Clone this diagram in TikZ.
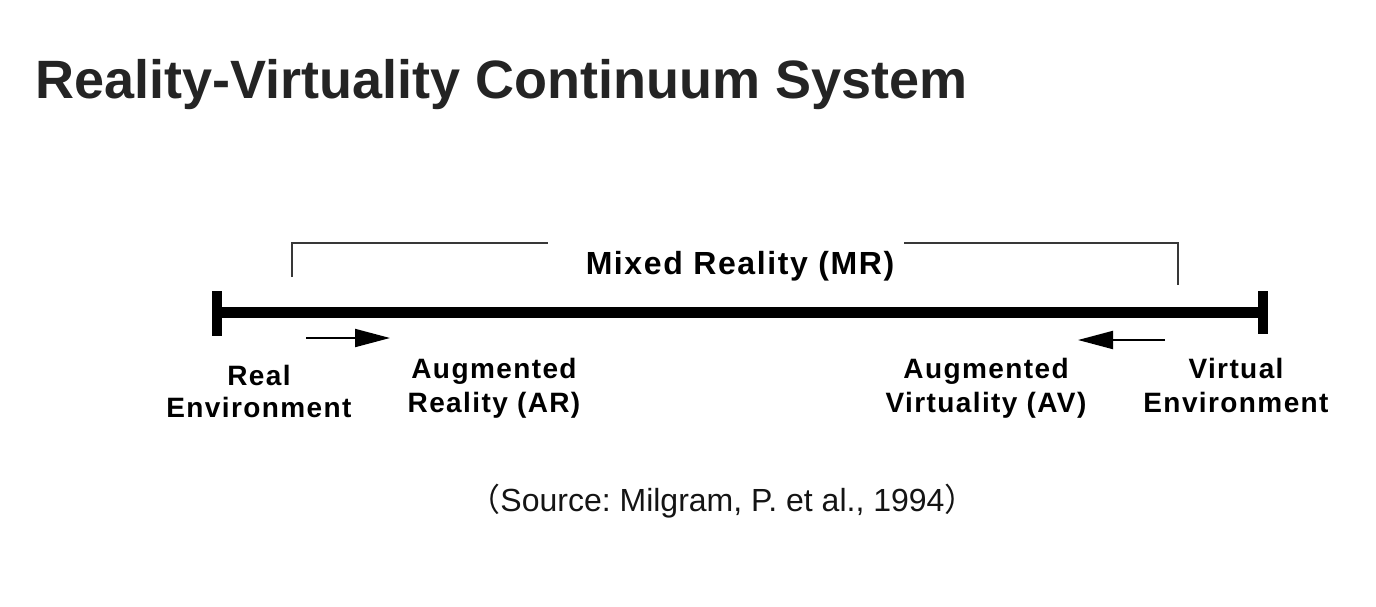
\documentclass[tikz,border=0pt]{standalone}
\usepackage{fontspec}
\setmainfont{Liberation Sans}
\newfontfamily\cjk{Noto Sans CJK SC}
\newfontfamily\lblfont[LetterSpace=5]{Liberation Sans}
\usetikzlibrary{arrows.meta}
\begin{document}
\begin{tikzpicture}[x=1pt,y=-1pt,
  heading/.style={anchor=base west, inner sep=0, text=black!86,
    font=\fontsize{54}{60}\selectfont\bfseries},
  lbl/.style={anchor=base, inner sep=0,
    font=\fontsize{28}{34}\selectfont\lblfont\bfseries},
  mrlbl/.style={anchor=base, inner sep=0,
    font=\fontsize{32}{36}\selectfont\lblfont\bfseries},
  srclbl/.style={anchor=base, inner sep=0, text=black!92,
    font=\fontsize{32}{36}\selectfont\frenchspacing},
  axis/.style={line width=11pt},
  endbar/.style={line width=10pt},
  bracket/.style={line width=2pt, draw=black!78},
  shiftarrow/.style={line width=2pt, -{Triangle[length=35pt,width=18pt]}}
]
\useasboundingbox (0,0) rectangle (1376,606);

% heading
\node[heading] (title) at (35,98) {Reality-Virtuality Continuum System};

% continuum axis with end bars
\coordinate (axL) at (217,312.5);
\coordinate (axR) at (1263,312.5);
\draw[axis] (axL) -- (axR);
\coordinate (barLt) at (217,291);
\coordinate (barLb) at (217,336);
\coordinate (barRt) at (1263,291);
\coordinate (barRb) at (1263,334);
\draw[endbar] (barLt) -- (barLb);
\draw[endbar] (barRt) -- (barRb);

% mixed reality bracket
\coordinate (mrL) at (292,277);
\coordinate (mrLend) at (548,243);
\coordinate (mrRstart) at (904,243);
\coordinate (mrR) at (1178,285);
\draw[bracket] (mrL) |- (mrLend);
\draw[bracket] (mrRstart) -| (mrR);
\node[mrlbl] (mr) at (740,274) {Mixed Reality (MR)};

% direction arrows
\coordinate (arFrom) at (306,338);
\coordinate (arTo) at (390,338);
\coordinate (avFrom) at (1165,340);
\coordinate (avTo) at (1078,340);
\draw[shiftarrow] (arFrom) -- (arTo);
\draw[shiftarrow] (avFrom) -- (avTo);

% labels along the axis
\node[lbl] (real) at (259,385) {\fontsize{28}{32}\selectfont\begin{tabular}[t]{@{}c@{}}Real\\Environment\end{tabular}};
\node[lbl] (ar) at (494,378) {\begin{tabular}[t]{@{}c@{}}Augmented\\Reality (AR)\end{tabular}};
\node[lbl] (av) at (986,378) {\begin{tabular}[t]{@{}c@{}}Augmented\\Virtuality (AV)\end{tabular}};
\node[lbl] (virt) at (1236,378) {\begin{tabular}[t]{@{}c@{}}Virtual\\Environment\end{tabular}};

% source line
\node[srclbl] (source) at (722.5,511) {{\cjk （}Source: Milgram, P. et al., 1994{\cjk ）}};
\end{tikzpicture}
\end{document}
